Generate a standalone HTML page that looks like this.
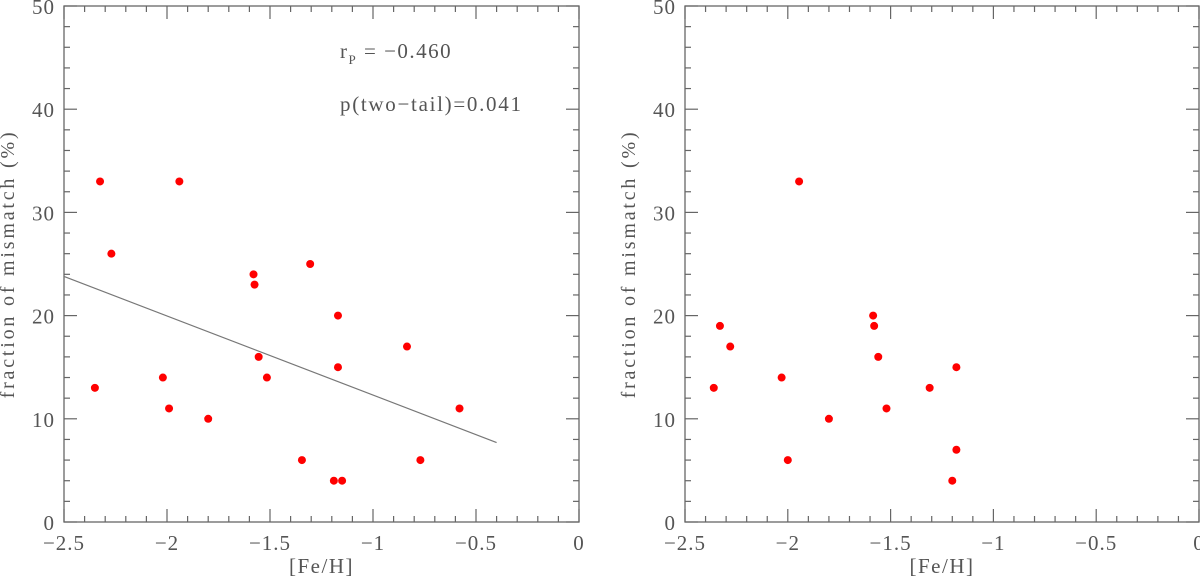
<!DOCTYPE html>
<html><head><meta charset="utf-8"><style>
body{margin:0;background:#fff;}
svg text{font-family:"Liberation Serif",serif;fill:#555;}
</style></head><body>
<svg id="chart" width="1200" height="578" xmlns="http://www.w3.org/2000/svg"></svg>
<script>
const leftFe=[-2.35,-2.325,-2.27,-2.02,-1.99,-1.94,-1.80,-1.58,-1.575,-1.555,-1.515,-1.345,-1.305,-1.19,-1.17,-1.17,-1.15,-0.835,-0.77,-0.58];
const leftMis=[13,33,26,14,11,33,10,24,23,16,14,6,25,4,20,15,4,17,6,11];
const rightFe=[-2.36,-2.33,-2.28,-2.03,-2.0,-1.945,-1.80,-1.585,-1.58,-1.56,-1.52,-1.31,-1.20,-1.18,-1.18];
const rightMis=[13,19,17,14,6,33,10,20,19,16,11,13,4,15,7];
const fitLine=[[-2.5,23.8],[-0.4,7.7]];
const xTicks=[-2.5,-2,-1.5,-1,-0.5,0];
const xTickLabels=["\u22122.5","\u22122","\u22121.5","\u22121","\u22120.5","0"];
const yTicks=[0,10,20,30,40,50];
const NS="http://www.w3.org/2000/svg";
const svg=document.getElementById('chart');
function mk(t,a,p){const e=document.createElementNS(NS,t);for(const k in a)e.setAttribute(k,a[k]);(p||svg).appendChild(e);return e;}
function panel(x0,x1,fe,mis,line,name){
  const y0=6,y1=522;
  const X=v=>x0+(v+2.5)/2.5*(x1-x0);
  const Y=v=>y1-v/50*(y1-y0);
  const g=mk('g',{});
  
  
  const fr=mk('rect',{x:x0,y:y0,width:x1-x0,height:y1-y0,fill:'none',stroke:'#666','stroke-width':1.3},g);
  
  
  for(let i=0;i<=25;i++){const v=-2.5+i*0.1,L=(i%5==0)?13:6,x=X(v);
    mk('line',{x1:x,x2:x,y1:y1,y2:y1-L,stroke:'#666','stroke-width':1.2},g);
    mk('line',{x1:x,x2:x,y1:y0,y2:y0+L,stroke:'#666','stroke-width':1.2},g);}
  for(let i=0;i<=25;i++){const v=i*2,L=(i%5==0)?13:6,y=Y(v);
    mk('line',{x1:x0,x2:x0+L,y1:y,y2:y,stroke:'#666','stroke-width':1.2},g);
    mk('line',{x1:x1,x2:x1-L,y1:y,y2:y,stroke:'#666','stroke-width':1.2},g);}
  xTicks.forEach((v,i)=>{const t=mk('text',{x:X(v),y:550,'text-anchor':'middle','font-size':21,'letter-spacing':1},g);t.textContent=xTickLabels[i];
    });
  yTicks.forEach(v=>{const t=mk('text',{x:x0-9,y:Y(v)+8,'text-anchor':'end','font-size':21,'letter-spacing':1},g);t.textContent=v;
    });
  const xt=mk('text',{x:X(-1.25),y:573,'text-anchor':'middle','font-size':21,'letter-spacing':1.5},g);xt.textContent='[Fe/H]';
  
  const yt=mk('text',{x:0,y:0,'text-anchor':'middle','font-size':20,'letter-spacing':2.8,transform:`translate(${x0-50},${Y(25)}) rotate(-90)`},g);yt.textContent='fraction of mismatch (%)';
  
  if(line){const l=mk('line',{x1:X(line[0][0]),y1:Y(line[0][1]),x2:X(line[1][0]),y2:Y(line[1][1]),stroke:'#777','stroke-width':1.2},g);
    }
  fe.forEach((v,i)=>{const c=mk('circle',{cx:X(v),cy:Y(mis[i]),r:4,fill:'#f00'},g);
    });
  return g;
}
panel(64,579,leftFe,leftMis,fitLine,'left-panel');
panel(685,1199,rightFe,rightMis,null,'right-panel');
const a=mk('text',{x:340,y:58,'font-size':21,'letter-spacing':1.5});a.innerHTML='r<tspan font-size="13" dy="6">P</tspan><tspan dy="-6"> = \u22120.460</tspan>';

const b=mk('text',{x:340,y:111,'font-size':21,'letter-spacing':1.7});b.textContent='p(two\u2212tail)=0.041';

</script>
</body></html>
